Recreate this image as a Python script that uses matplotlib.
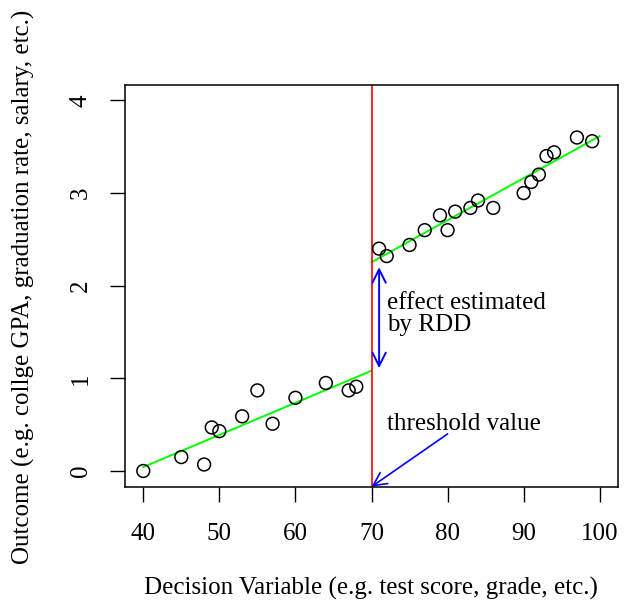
import numpy as np
import matplotlib.pyplot as plt

plt.rcParams['font.family'] = ['Liberation Serif', 'DejaVu Serif']

# score below / above the threshold and the outcome observed
x_left = [40, 45, 48, 49, 50, 53, 55, 57, 60, 64, 67, 68]
y_left = [0.00, 0.15, 0.07, 0.47, 0.43, 0.59, 0.87, 0.51, 0.79, 0.95, 0.87, 0.91]
x_right = [71, 72, 75, 77, 79, 80, 81, 83, 84, 86, 90, 91, 92, 93, 94, 97, 99]
y_right = [2.40, 2.32, 2.44, 2.60, 2.76, 2.60, 2.80, 2.84, 2.92, 2.84,
           3.00, 3.12, 3.20, 3.40, 3.44, 3.60, 3.56]

threshold = 70
xticks = [40, 50, 60, 70, 80, 90, 100]
yticks = [0, 1, 2, 3, 4]

fs = 18
fig = plt.figure(figsize=(6.29, 6.08), dpi=100)
ax = fig.add_axes([125 / 629, 1 - 487 / 608, (618 - 125) / 629, (487 - 85) / 608])

ax.scatter(x_left + x_right, y_left + y_right, s=85, facecolors='none',
           edgecolors='black', linewidths=1.1, zorder=3)

# separate linear fits on each side of the cut-off
fl = np.polyfit(x_left, y_left, 1)
fr = np.polyfit(x_right, y_right, 1)
xl = np.array([40, threshold])
xr = np.array([threshold, 100])
ax.plot(xl, np.polyval(fl, xl), color='#00ff00', lw=1.4)
ax.plot(xr, np.polyval(fr, xr), color='#00ff00', lw=1.4)

ax.axvline(threshold, color='red', lw=1.2)

head = '<->,head_length=0.96,head_width=0.48'
ax.annotate('', xy=(71, 1.11), xytext=(71, 2.20), annotation_clip=False,
            arrowprops=dict(arrowstyle=head, color='blue', lw=1.4,
                            shrinkA=0, shrinkB=0, mutation_scale=10))
ax.text(72, 1.70, 'effect estimated\nby RDD', fontsize=fs, ha='left', va='center',
        linespacing=1.0)

ax.annotate('', xy=(70, -0.17), xytext=(80, 0.40), annotation_clip=False,
            arrowprops=dict(arrowstyle='->,head_length=0.96,head_width=0.48',
                            color='blue', lw=1.2, shrinkA=0, shrinkB=0,
                            mutation_scale=10))
ax.text(72, 0.51, 'threshold value', fontsize=fs, ha='left', va='center')

ax.set_xlim(37.6, 102.4)
ax.set_ylim(-0.173, 4.167)
ax.set_xticks(xticks)
ax.set_yticks(yticks)
ax.tick_params(direction='out', length=11, width=1, labelsize=fs)
ax.tick_params(axis='x', pad=15)
ax.tick_params(axis='y', pad=13)
for lab in ax.get_yticklabels():
    lab.set_rotation(90)
    lab.set_va('center')
for sp in ax.spines.values():
    sp.set_linewidth(1.1)

fig.text(371 / 629, 1 - 588 / 608, 'Decision Variable (e.g. test score, grade, etc.)',
         fontsize=fs, ha='center', va='center')
fig.text(23 / 629, 1 - 287 / 608,
         'Outcome (e.g. collge GPA, graduation rate, salary, etc.)',
         fontsize=fs, ha='center', va='center', rotation=90)

fig.savefig('out.png', dpi=100)
